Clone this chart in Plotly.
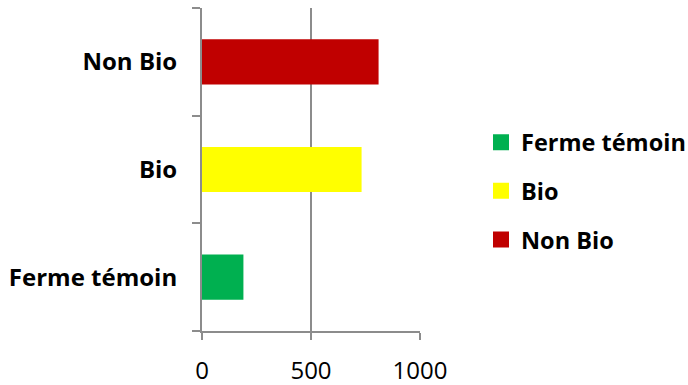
import plotly.graph_objects as go

categories = ["Ferme témoin", "Bio", "Non Bio"]
values = [190, 732, 810]
colors = ["#00B050", "#FFFF00", "#C00000"]

W, H = 688, 385
L, R, T, B = 202, 268, 8, 54
grey = "#8C8C8C"

fig = go.Figure()
for cat, val, col in zip(categories, values, colors):
    fig.add_trace(go.Bar(
        y=[cat], x=[val], orientation="h", width=0.42,
        marker=dict(color=col, line=dict(width=0)),
        showlegend=False, hoverinfo="skip",
    ))
# square legend swatches
for cat, col in zip(categories, colors):
    fig.add_trace(go.Scatter(
        x=[None], y=[None], mode="markers", name=cat, legendgroup=cat,
        marker=dict(symbol="square", size=18, color=col),
    ))

pw = W - L - R
ph = H - T - B
fig.update_layout(
    width=W, height=H,
    margin=dict(l=L, r=R, t=T, b=B, pad=0, autoexpand=False),
    paper_bgcolor="white", plot_bgcolor="white",
    barmode="overlay",
    font=dict(family="Open Sans", color="black"),
    xaxis=dict(
        range=[0, 1000], tickvals=[0, 500, 1000],
        showgrid=True, gridcolor=grey, gridwidth=2,
        zeroline=False, showline=True, linecolor=grey, linewidth=2,
        ticks="outside", ticklen=7, tickwidth=2, tickcolor=grey,
        tickfont=dict(size=24, family="Open Sans"),
        ticklabelstandoff=10,
    ),
    yaxis=dict(
        categoryorder="array", categoryarray=categories,
        range=[-0.5, 2.5], tickson="boundaries",
        showgrid=False, zeroline=False,
        showline=True, linecolor=grey, linewidth=2,
        ticks="outside", ticklen=8, tickwidth=2, tickcolor=grey,
        tickfont=dict(size=24, family="Open Sans", weight="bold"),
        ticklabelstandoff=18,
    ),
    legend=dict(
        x=(481 - L) / pw, xanchor="left",
        y=(H - B - 191) / ph, yanchor="middle",
        traceorder="grouped", tracegroupgap=15,
        font=dict(size=23.5, family="Open Sans", weight="bold"),
        bgcolor="rgba(0,0,0,0)",
    ),
)

fig.write_html("out.html")
